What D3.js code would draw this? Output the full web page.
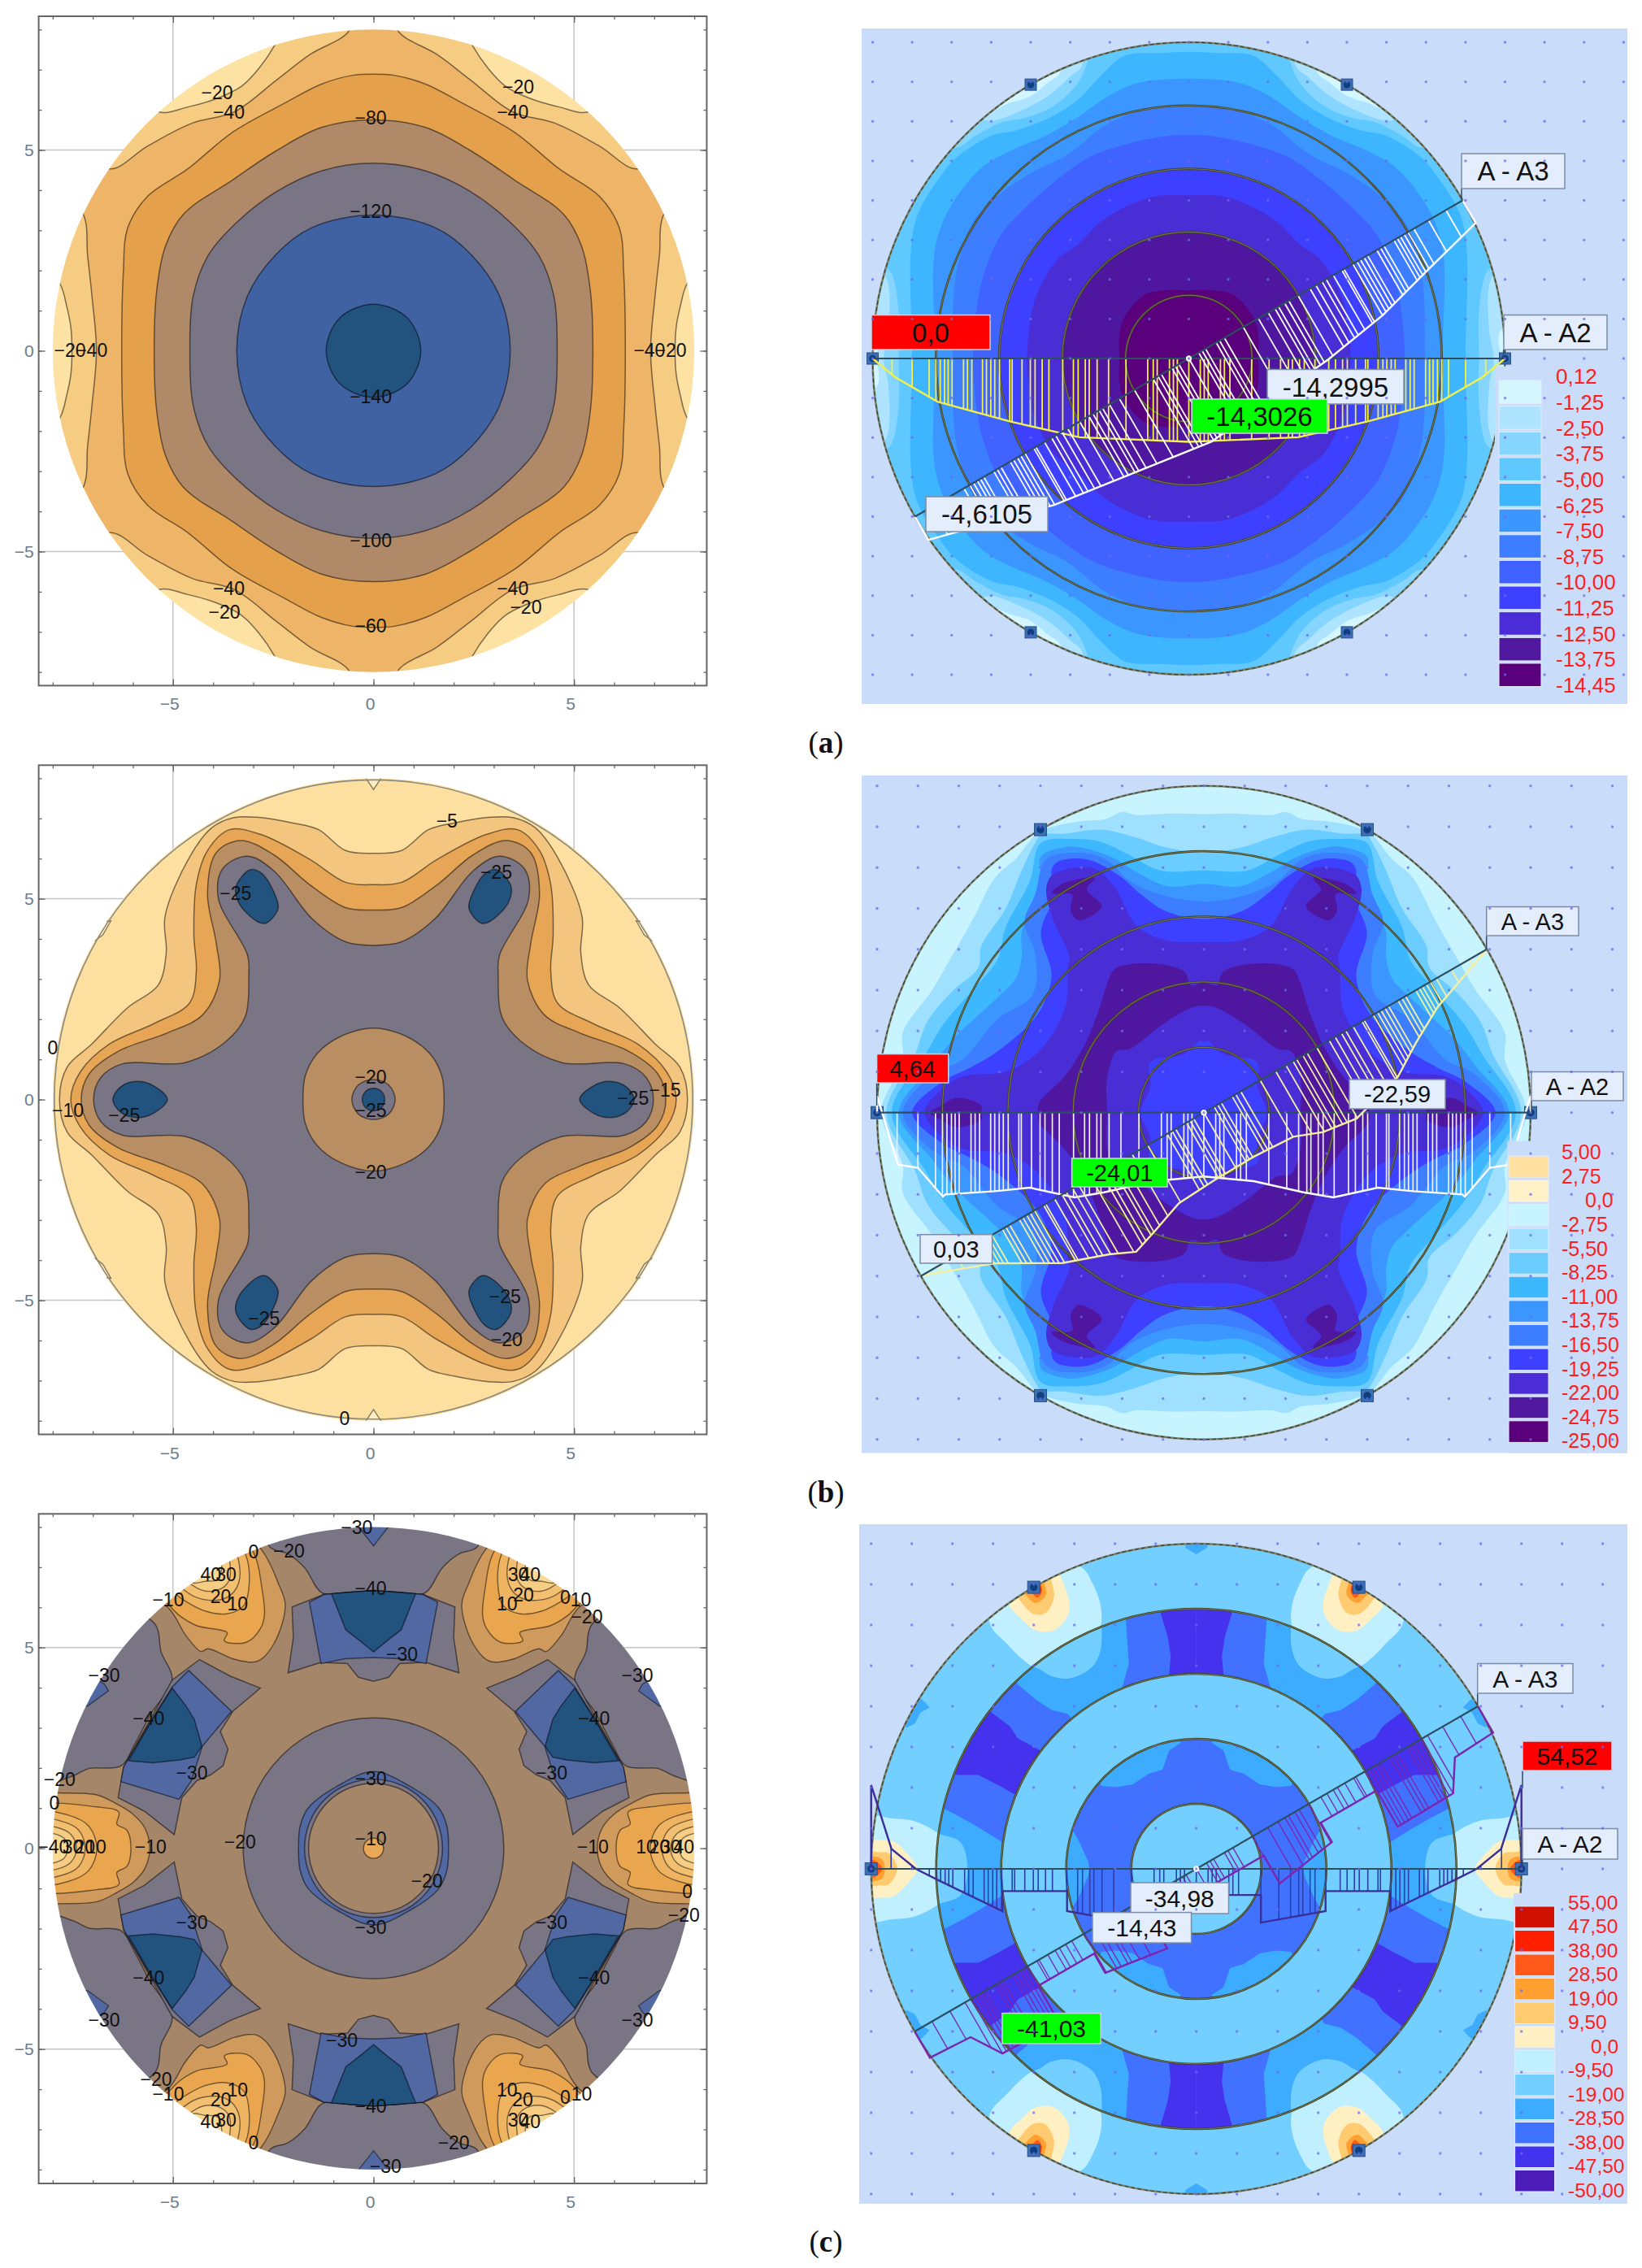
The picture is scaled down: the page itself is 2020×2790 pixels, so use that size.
<!DOCTYPE html>
<html><head><meta charset="utf-8">
<script src="https://cdn.jsdelivr.net/npm/d3@7"></script>
<style>html,body{margin:0;background:#fff}svg{display:block}</style></head>
<body><svg id="c" width="2020" height="2790"></svg>
<script>
// ---------- values (plot units; first quadrant, mirrored on both axes) ----------
const tickVals=d3.range(-8,9), majorVals=[-5,0,5];
// left (a)
const la20=[[7.52,0],[7.55,.6],[7.65,1.1],[7.82,1.67],[8.6,2.6],[7.5,5.6],[6,6.6],[5.36,5.95],[4.63,6.07],[3.86,6.3],[3.3,6.58],[2.86,7.03],[2.47,7.6],[2,8.6],[0,9.5]];
const la40=[[6.91,0],[7.02,1.35],[7.13,2.37],[7.24,3.4],[8,4.2],[7.4,5.2],[6.58,4.53],[5.63,5.1],[4.52,5.67],[3.47,5.95],[2.41,6.75],[1.58,7.38],[.63,7.94],[.4,8.6],[0,8.7]];
const la60=[[6.28,0],[6.24,1.92],[6.13,3.06],[5.63,3.85],[4.63,4.53],[3.52,5.44],[2.19,6.18],[1.3,6.64],[.52,6.86],[0,6.89]];
const la80=[[5.47,0],[5.41,1.47],[5.19,2.6],[4.74,3.4],[3.52,4.25],[2.41,4.99],[1.3,5.56],[0,5.75]];
const la100=[[4.58,0],[4.5,1.35],[4.12,2.38],[3.41,3.2],[2.41,3.97],[1.3,4.48],[0,4.67]];
const la120=[[3.41,0],[3.15,1.35],[2.45,2.38],[1.55,3.06],[0,3.38]];
const la140=[[1.18,0],[.84,.82],[0,1.16]];
const laChains=[la20,la40,la60,la80,la100,la120,la140];
const laColors=['#f6cb82','#eeb569','#e4a04c','#b08a68','#7a7585','#3f62a2','#23527f'];
const laLabels=[['−20',-3.9,6.43],['−40',-3.61,5.95],['−20',3.61,6.58],['−40',3.47,5.95],['−80',-.07,5.81],['−120',-.07,3.48],['−140',-.07,-1.13],['−100',-.07,-4.73],['−60',-.07,-6.85],['−40',-3.61,-5.92],['−20',-3.72,-6.51],['−40',3.47,-5.92],['−20',3.8,-6.38],['−20',-7.57,.02],['−40',-7.03,.02],['−40',6.88,.02],['−20',7.41,.02]];
// left (b)
const lb5=[[7.83,0],[7.64,.81],[7.03,1.38],[6.14,2.28],[5.37,2.85],[5.17,3.65],[5.2,4.56],[4.59,6.03],[4.03,6.77],[3.48,7.02],[2.92,7.03],[2.03,6.89],[1.37,6.72],[.7,6.2],[0,6.13]];
const lb10=[[7.55,0],[7.31,.69],[6.59,1.38],[5.48,1.89],[4.59,2.4],[4.42,3.19],[4.48,4.1],[4.42,5.35],[4.14,6.2],[3.59,6.72],[2.81,6.6],[1.59,5.98],[.7,5.41],[0,5.35]];
const lb15=[[7.29,0],[7.09,.64],[6.37,1.2],[5.14,1.66],[4.26,2.11],[3.84,2.97],[3.92,3.88],[4.14,5.13],[3.92,6.15],[3.31,6.45],[2.48,6.09],[1.59,5.35],[.7,4.78],[0,4.72]];
const lb20=[[6.98,0],[6.8,.55],[6.26,.89],[4.7,.92],[3.7,1.43],[3.2,2.06],[3.11,3.08],[3.14,3.59],[3.87,5.01],[3.76,5.75],[3.14,6.06],[2.48,5.69],[1.53,4.5],[.7,3.93],[0,3.84]];
const lbChains=[lb5,lb10,lb15,lb20];
const lbColors=['#f4c57e','#e7a655','#b98e62','#7a7585'];
const lbCenter=[[1.76,0],[1.7,.6],[1.4,1.15],[.8,1.58],[0,1.78]];
const lbCenterGray=[[.54,0],[.38,.36],[0,.5]];
const lbCenterBlue=[[.28,0],[.2,.2],[0,.28]];
const lbBlobDiag=[[3.08,5.72],[3.43,5.3],[3.36,4.9],[2.91,4.44],[2.69,4.39],[2.38,4.76],[2.52,5.24],[2.8,5.64]];
const lbBlobAxis=[[5.14,0],[5.5,.35],[5.9,.45],[6.3,.32],[6.5,0]];
const lbNotchTop=[[.22,8.05],[.08,7.84],[0,7.72]];
const lbNotchDiag=[[6.55,4.45],[6.75,4.1],[6.95,3.95],[7.2,3.95],[7.1,4.4]];
const lbLabels=[['−5',1.83,6.94],['−25',3.06,5.67],['−25',-3.44,5.13],['−20',-.07,.56],['−25',-.07,-.27],['−20',-.07,-1.81],['−25',-6.22,-.39],['−25',6.47,.03],['−15',7.27,.24],['−10',-7.62,-.27],['0',-8,1.3],['−25',-2.73,-5.44],['−25',3.28,-4.91],['−20',3.32,-5.98],['0',-.72,-7.94]];
// left (c)
const lcTan=[[8.5,0],[8.5,1.3],[7.95,1.63],[7.43,1.83],[7.09,1.99],[6.3,2.05],[5.95,2.6],[5.55,3.35],[5.02,4.19],[5.3,4.9],[5.42,5.54],[6.5,6.5],[3,8.6],[2.58,7.5],[2.13,7.33],[1.72,6.99],[1.27,6.35],[.6,6.38],[0,6.4]];
const lcWedge=[[2.82,3.99],[3.58,4.29],[4.34,4.7],[5.02,4.19],[5.6,3.15],[6.23,2.03],[6.37,1.26],[5.71,.92],[4.97,.34],[4.78,1.26],[4.4,1.69],[4.06,1.83],[3.75,2.06],[3.63,2.47],[3.82,2.91],[3.51,3.41]];
const lcBlue=[[4.61,4.43],[5.02,4.02],[5.6,3.1],[6.23,2.03],[6.3,1.66],[4.85,1.22],[4.54,1.69],[4.27,2.54],[3.54,3.41]];
const lcDark=[[5.02,3.99],[5.55,3.15],[6.11,2.18],[5.5,2.13],[4.82,2.2],[4.47,2.27],[4.28,2.54],[4.47,3.21],[4.68,3.55]];
const lcTopGray=[[0,6.42],[1.24,6.32],[2.03,6.01],[2,5.24],[2.13,4.37],[1.31,4.63],[.65,4.6],[.38,4.26],[0,4.16]];
const lcTopBlue=[[0,6.42],[1.24,6.32],[1.6,6.13],[1.31,4.6],[.7,4.72],[0,4.75]];
const lcTopDark=[[0,6.42],[1.05,6.34],[.69,5.44],[.34,5.17],[0,4.89]];
const lcPatch=[[6.71,4.09],[6.61,3.92],[7.12,3.55],[7.3,3.5],[7.7,3.7],[7.2,4.4]];
const lcTip=[[.4,8.2],[.37,8],[0,7.53]];
const lcDiag=[
 [[2.79,7.43],[2.37,6.59],[2.2,6.05],[2.48,5.1],[2.89,4.66],[3.44,4.7],[4.13,4.97],[4.3,4.9],[4.68,5.3],[5.13,6],[6.5,6.8],[4,8.5]],
 [[2.99,7.36],[2.79,6.52],[2.72,5.81],[2.82,5.47],[3.17,5.13],[3.72,5.17],[3.65,5.37],[4.4,5.54],[4.82,5.78],[5.13,6.08],[6.2,7],[4,8.5]],
 [[3.18,7.29],[3.1,6.59],[3.23,6.05],[3.65,5.84],[4.2,5.91],[4.68,6.15],[4.96,6.35],[5.8,7.2],[4,8.5]],
 [[3.37,7.19],[3.37,6.59],[3.65,6.25],[4.13,6.18],[4.61,6.35],[5.5,7.4],[4,8.5]],
 [[3.58,7.09],[3.61,6.65],[3.92,6.42],[4.4,6.48],[5.2,7.4],[4,8.5]],
 [[3.79,6.96],[3.89,6.69],[4.2,6.65],[4.54,6.62],[5.1,7.4],[4,8.5]]];
const lcAxis=[
 [[5.58,0],[5.7,.5],[6,.85],[6.4,1.1],[6.9,1.33],[7.86,1.38],[8.5,1.4],[8.5,0]],
 [[6.05,0],[6.15,.45],[6.4,.6],[6.35,.9],[6.9,1.03],[8.5,1],[8.5,0]],
 [[6.9,0],[7.1,.55],[7.6,.82],[8.5,.88],[8.5,0]],
 [[7.19,0],[7.35,.45],[7.8,.68],[8.5,.72],[8.5,0]],
 [[7.41,0],[7.55,.35],[7.9,.52],[8.5,.56],[8.5,0]],
 [[7.63,0],[7.72,.25],[8,.37],[8.5,.4],[8.5,0]]];
const lcLobeColors=['#cf9a5c','#e9a650','#efb462','#f3c072','#f7cd84','#fad995'];
const lcHex=[[1.87,0],[1.83,.55],[1.63,1],[.9,1.55],[0,1.91]];
const lcRingR=[3.25,1.72,1.62,.25];
const lcLabels=[['−30',-.42,7.99],['0',-2.99,7.39],['−20',-2.11,7.41],['40',-4.06,6.82],['30',-3.68,6.82],['20',-3.81,6.28],['10',-3.39,6.1],['−10',-5.12,6.19],['−40',-.07,6.48],['−30',.71,4.83],['30',3.61,6.82],['40',3.91,6.82],['20',3.74,6.31],['10',3.33,6.1],['0',4.78,6.25],['10',5.17,6.19],['−20',5.32,5.76],['−30',-6.72,4.31],['−30',6.58,4.31],['−40',-5.61,3.24],['−40',5.5,3.24],['−30',-4.53,1.88],['−30',4.44,1.88],['−20',-7.83,1.73],['0',-7.96,1.14],['−30',-.07,1.74],['−10',-.07,.25],['−20',-3.33,.17],['−10',-5.56,.03],['−10',5.47,.03],['−40',-7.98,.03],['30',-7.5,.03],['20',-7.2,.03],['10',-6.92,.03],['10',6.8,.03],['20',7.13,.03],['30',7.41,.03],['40',7.74,.03],['−20',1.33,-.8],['0',7.83,-1.08],['−20',7.74,-1.67],['−30',-4.53,-1.85],['−30',4.44,-1.85],['−30',-.07,-1.97],['−40',-5.61,-3.22],['−40',5.5,-3.22],['−30',-6.72,-4.28],['−30',6.58,-4.28],['−30',-.79,-4.77],['−20',-5.42,-5.74],['−10',-5.12,-6.11],['10',-3.39,-6.02],['20',-3.81,-6.25],['30',-3.68,-6.76],['40',-4.06,-6.8],['0',-2.99,-7.33],['−40',-.07,-6.42],['−20',2,-7.33],['10',3.33,-6.02],['20',3.72,-6.25],['30',3.61,-6.76],['40',3.91,-6.8],['0',4.78,-6.19],['10',5.19,-6.11],['−30',.3,-7.92]];
// right (a)
const ra=[
 [[7.89,0],[7.85,.6],[8.2,1.2],[7,4],[6,5.6],[4.64,6.42],[4.02,6.63],[3.54,7],[3.27,7.21],[3,8.5],[0,9]],
 [[7.72,0],[7.6,.7],[7.68,2.08],[8.4,2.6],[7,5],[5.6,6.2],[5.05,6.01],[4.29,6.25],[3.54,6.66],[2.99,7.14],[2.72,7.38],[2.4,8.5],[0,9]],
 [[7.34,0],[7.34,1.18],[7.51,2.14],[7.7,2.35],[8.3,3],[6.6,5.6],[5.9,5.33],[5.39,5.64],[4.71,5.98],[4.16,6.08],[3.47,6.36],[2.86,6.9],[2.58,7.45],[2.3,8.5],[0,9]],
 [[7,0],[7.03,2.76],[6.86,3.65],[6.28,4.61],[5.87,5.09],[4.98,5.64],[4.36,5.77],[3.47,6.12],[2.79,6.56],[2.24,7.14],[1.62,7.66],[.73,7.73],[0,7.76]],
 [[6.42,0],[6.45,2.55],[6.28,3.31],[5.94,3.99],[5.25,4.82],[4.57,5.23],[3.61,5.64],[2.79,6.12],[2.1,6.6],[1.28,6.97],[0,7.08]],
 [[5.97,0],[5.94,1.73],[5.8,2.55],[5.46,3.45],[4.91,4.06],[4.02,4.68],[3.06,5.16],[2.1,5.91],[1.14,6.29],[0,6.39]],
 [[5.46,0],[5.36,1.32],[5.18,2.14],[4.77,3.1],[4.23,3.72],[3.4,4.47],[2.51,5.09],[1.55,5.43],[.46,5.64],[0,5.65]],
 [[4.8,0],[4.43,1.85],[3.39,3.39],[1.85,4.43],[0,4.8]],
 [[4.09,0],[4.05,.64],[3.88,1.53],[3.34,2.49],[2.79,2.9],[2.24,3.45],[1.55,3.86],[.87,4.1],[0,4.13]],
 [[3.18,0],[2.94,1.22],[2.25,2.25],[1.22,2.94],[0,3.18]],
 [[1.76,0],[1.69,.91],[1.14,1.6],[.6,1.73],[0,1.73]]];
const raColors=['#aee4ff','#85d5ff','#5fc8ff','#3db6ff','#3b97ff','#3d7dff','#3f62ff','#3d40ff','#4a2dd6','#50179f','#5a007c'];
const legendAValues=['0,12','-1,25','-2,50','-3,75','-5,00','-6,25','-7,50','-8,75','-10,00','-11,25','-12,50','-13,75','-14,45'];
const legendAColors=['#d4f7ff','#aee4ff','#85d5ff','#5fc8ff','#3db6ff','#3b97ff','#3d7dff','#3f62ff','#3d40ff','#4a2dd6','#50179f','#5a007c'];
// right (b)
const rb=[
 [[7.9,0],[7.37,1.3],[7.37,1.96],[6.64,3.02],[6.18,3.81],[5.65,4.74],[5.12,5.74],[4.59,6.23],[4.06,6.86],[3.73,6.99],[3.07,7.13],[2.4,7.19],[2,7.36],[1.68,7.29],[.75,7.32],[0,7.31]],
 [[7.77,0],[7.07,1.43],[6.77,2.23],[6.18,2.95],[5.52,3.55],[5.45,4.08],[4.85,5],[4.46,5.93],[4.13,6.6],[3.99,6.79],[3.4,6.83],[2.54,6.93],[1.74,6.76],[.95,6.5],[0,6.36]],
 [[7.64,0],[6.81,1.43],[6.38,2.16],[5.58,3.09],[5.05,3.75],[4.85,4.54],[4.26,5.67],[3.99,6.6],[3.2,6.7],[2.54,6.63],[1.87,6.33],[1.08,5.93],[0,5.93]],
 [[7.47,0],[6.64,1.16],[6.11,1.83],[5.05,2.82],[4.6,3.3],[4.46,3.81],[4.46,4.4],[4,5.7],[3.99,6.27],[3.4,6.5],[3.07,6.5],[2.27,6.26],[1.61,5.87],[.88,5.54],[0,5.6]],
 [[7.37,0],[6.58,.97],[5.91,1.3],[5.05,2.29],[4.19,2.89],[4.13,3.88],[4.39,4.68],[4.13,5.34],[3.86,6.2],[3.07,6.36],[2.4,6.2],[1.81,5.67],[1.08,5.34],[0,5.17]],
 [[7.14,0],[6.38,.77],[5.72,1.1],[5.05,1.5],[4.06,2.42],[3.73,3.35],[3.99,4.41],[3.66,5.34],[3.73,5.93],[3.6,6.13],[2.87,6.2],[2.07,5.8],[1.54,5.34],[.95,4.94],[0,4.74]],
 [[6.84,0],[6.3,.67],[5.85,.9],[5,.97],[4.6,1.1],[3.98,1.56],[3.4,2.55],[3.33,3.56],[3.29,3.82],[3.7,4.75],[3.86,5.46],[3.73,5.8],[3.3,5.97],[2.66,5.97],[2.2,5.54],[1.61,4.54],[.88,4.21],[0,4.18]],
 [[4.06,0],[4.03,.24],[3.4,.9],[2.93,1.63],[2.6,2.42],[2.34,3.22],[2.17,3.52],[1.28,3.65],[.48,3.45],[.32,3.12],[0,3.19]],
 [[2.37,0],[2.37,.83],[2.14,1.5],[1.81,1.56],[1.01,2.16],[.32,2.56],[0,2.62]],
 [[1.54,0],[1.31,.64],[1.31,1.23],[.48,1.43],[.09,1.76],[0,1.73]]];
const rbColors=['#9fe0ff','#6accff','#3cb8ff','#3b97ff','#3d7dff','#3d40ff','#4a2dd6','#50179f','#4a2dd6','#3d40ff'];
const rbBlobDiag=[[3.73,5.37],[3.46,5.6],[2.67,5.74],[2.87,5.47],[2.5,5.07],[2.67,4.87],[3.07,4.71],[3.26,4.94],[3.23,5.34]];
const rbBlobAxis=[[5.45,0],[5.45,.17],[6.05,.36],[6.44,.17],[6.71,0]];
const legendBValues=['5,00','2,75','0,0','-2,75','-5,50','-8,25','-11,00','-13,75','-16,50','-19,25','-22,00','-24,75','-25,00'];
const legendBColors=['#ffe0a0','#fff2c8','#c8f4ff','#9fe0ff','#6accff','#3cb8ff','#3b97ff','#3d7dff','#3d40ff','#4a2dd6','#50179f','#5a007c'];
// right (c)
const rcBase=[[5.63,0],[5.8,.65],[6.36,.88],[7,1.2],[7.5,3],[6,5],[4,4.97],[3.56,4.74],[3.1,4.69],[2.56,4.97],[2.36,5.37],[2.33,6.04],[2.4,7],[0,7.5]];
const rcMid1=[[4.5,.5],[4.76,.65],[5.29,.98],[5.76,1.25],[6.26,1.51],[7.5,1.9],[7,4],[5,5.2],[4.39,4.54],[3.96,4.17],[3.56,3.91],[3.16,3.81],[2.9,3.5],[3.5,2.2]];
const rcMid2=[[1.83,4.44],[1.66,5.04],[1.73,6.1],[1.8,7],[0,7.2],[0,4],[1.7,4]];
const rcDeep1=[[5.89,2.31],[5.36,2.31],[4.85,2.05],[4.43,1.81],[3.9,1.6],[3.4,2.5],[3.83,2.91],[4.39,3.21],[4.59,3.51],[5.03,3.84],[5.7,4.4],[6.9,2.7]];
const rcDeep2=[[.87,6.27],[.7,5.7],[.63,5.24],[.67,4.77],[.65,4.3],[0,4.3],[0,7],[.9,7]];
const rcLobeDiag=[
 [[5.09,6.07],[4.63,5.51],[4.29,5.17],[3.99,4.97],[2.9,4.9],[2.36,5.94],[2.36,6.5],[2.56,7.04],[2.8,7.4],[3.5,7.6],[4.8,7]],
 [[4.59,6.47],[4.29,6.14],[3.96,5.87],[3.5,5.87],[3.16,6.24],[3.13,6.57],[3.26,7],[3.33,7.17],[3.6,7.5],[4.6,7]],
 [[4.29,6.54],[3.99,6.27],[3.7,6.3],[3.5,6.7],[3.56,7.07],[3.7,7.5],[4.5,7]],
 [[4.16,6.7],[3.96,6.54],[3.7,6.74],[3.73,6.97],[3.9,7.4],[4.4,7]],
 [[4.06,6.8],[3.9,6.67],[3.8,6.87],[3.95,7.2],[4.3,7]],
 [[4,6.87],[3.83,6.8],[3.85,6.98],[4.1,7.1]]];
const rcLobeAxis=[
 [[6,0],[6,.5],[6.36,.88],[6.96,1.18],[7.56,1.25],[7.86,1.31],[8.5,1.3],[8.5,0]],
 [[6.86,0],[7.06,.31],[7.46,.68],[7.82,.71],[8.5,.7],[8.5,0]],
 [[7.36,0],[7.56,.38],[7.79,.41],[8.5,.42],[8.5,0]],
 [[7.66,0],[7.75,.25],[8.5,.27],[8.5,0]],
 [[7.72,0],[7.78,.1],[7.95,.22],[8.5,.2],[8.5,0]],
 [[7.85,0],[7.95,.12],[8.5,.12],[8.5,0]]];
const rcLobeColors=['#c0f0ff','#fff0c4','#ffcb70','#ffa030','#ff5a1a','#ff2000'];
const rcPatch=[[6.72,4.14],[6.56,3.97],[6.79,3.84],[6.92,3.58],[7.12,3.48],[7.7,3.7],[7.2,4.5]];
const rcTip=[[.27,8.2],[.27,7.9],[0,7.74]];
const rcInner1=[[.37,3.11],[.67,2.91],[.83,2.44],[1.17,2.34],[1.56,2.08],[1.96,2.01],[2.33,2.04],[2.6,2.6],[1,3.5]];
const rcInner2=[[3.06,.98],[2.9,.71],[2.66,.18],[2.63,0],[3.5,0],[3.5,1]];
const ringRadii=[6.4,4.8,3.2,1.6];
const legendCValues=['55,00','47,50','38,00','28,50','19,00','9,50','0,0','-9,50','-19,00','-28,50','-38,00','-47,50','-50,00'];
const legendCColors=['#d01000','#ff2000','#ff5a1a','#ffa030','#ffcb70','#fff0c4','#c0f0ff','#72cfff','#3dacff','#3f72ff','#4433ee','#4c1cb8'];
// section results
const nodeS=[0,.29,.39,.49,.8,.9,1.04,1.59,2.03,2.32,2.52,2.62,2.8,2.92,3.19,3.54,3.71,3.89,4.01,4.22,4.47,4.53,4.79,4.91,5.01,5.12,5.22,5.49,5.6,5.7,5.99,6.09,6.18,6.29,6.4,6.57,7,7.51];
const sA2a=[-8,-7.43,-6.36,-4.53,-2.77,0,2.77,4.53,6.36,7.43,8], vA2a=[0,-3.2,-7.4,-10.8,-13.5,-14.3,-13.5,-10.8,-7.4,-3.2,0];
const sA3a=[-8,-4.8,-.56,3.05,4.8,6.27,8], vA3a=[-4.61,-10.2,-14.3,-12.1,-10.2,-7.5,-4.47];
const sA2b=[-8,-7.49,-7,-6.39,-6.33,-5.12,-4.26,-3.17,-2.44,-1.22,0,1.22,2.44,3.17,4.26,5.12,6.33,6.39,7,7.49,8], vA2b=[4.64,-14.4,-15.3,-23.3,-22.7,-21.8,-20.8,-23.5,-22.1,-19,-17.7,-19,-22.1,-23.5,-20.8,-21.8,-22.7,-23.3,-15.3,-14.4,4.64];
const sA3b=[-7.97,-6.28,-4.84,-3.74,-3.14,-2.53,-1.64,-.63,.52,1.6,2.29,3.17,4.55,5.34,6.24,8], vA3b=[.03,-7.2,-16.5,-20.9,-24.01,-21.8,-18.3,-17.7,-17.5,-18.2,-21.2,-22.59,-18.3,-12.7,-7.1,0];
const sA2c=[-8,-7.5,-6.9,-6.36,-4.77,-4.77,-3.18,-3.18,-1.59,-1.59,0,1.59,1.59,3.18,3.18,4.77,4.77,6.36,6.9,7.5,8], vA2c=[54.52,13,0,-7.2,-27.5,-14.5,-14.5,-27.5,-34.98,-17,-17,-17,-34.98,-27.5,-14.5,-14.5,-27.5,-7.2,0,13,54.52];
const sA3c=[-8,-6.88,-6.4,-4.81,-4.81,-3.22,-3.22,-1.6,-1.6,0,1.6,1.6,3.22,3.22,4.81,4.81,6.4,6.88,8], vA3c=[-19.8,-21.4,-41.03,-41.8,-14.5,-14.5,-29,-35.4,-14.43,-14.43,-14.43,-35.4,-29,-14.5,-14.5,-41.8,-41.03,-21.4,-19.8];
const supportAngles=[0,60,120,180,240,300];

// ---------- helpers ----------
const svg=d3.select('#c');
const defs=svg.append('defs');
defs.append('filter').attr('id','soft').append('feGaussianBlur').attr('stdDeviation',.7);
let clipN=0;
const smooth=(x,y)=>d3.line().x(d=>x(d[0])).y(d=>y(d[1])).curve(d3.curveCatmullRomClosed.alpha(.5));
const straight=(x,y)=>d3.line().x(d=>x(d[0])).y(d=>y(d[1])).curve(d3.curveLinearClosed);
function dedupe(p){return p.filter((d,i)=>{const n=p[(i+1)%p.length];return !(Math.abs(d[0]-n[0])<1e-6&&Math.abs(d[1]-n[1])<1e-6)})}
function loop4(ch){const r=ch.slice().reverse();return dedupe([...ch,...r.map(d=>[-d[0],d[1]]),...ch.map(d=>[-d[0],-d[1]]),...r.map(d=>[d[0],-d[1]])])}
function flips(p){return [[1,1],[-1,1],[-1,-1],[1,-1]].map(s=>p.map(d=>[d[0]*s[0],d[1]*s[1]]))}
function axisBlob(ch){const r=ch.slice().reverse();const up=dedupe([...ch,...r.map(d=>[d[0],-d[1]])]);return [up,up.map(d=>[-d[0],d[1]])]}
function topBlob(ch){const r=ch.slice().reverse();const up=dedupe([...ch,...r.map(d=>[-d[0],d[1]])]);return [up,up.map(d=>[d[0],-d[1]])]}
function clipped(parent,x,y,R){const id='clip'+(clipN++);
  defs.append('clipPath').attr('id',id).append('ellipse').attr('cx',x(0)).attr('cy',y(0)).attr('rx',x(R)-x(0)).attr('ry',y(0)-y(R));
  return parent.append('g').attr('clip-path',`url(#${id})`)}
function disc(g,x,y,r,fill,stroke,sw){return g.append('ellipse').attr('cx',x(0)).attr('cy',y(0)).attr('rx',x(r)-x(0)).attr('ry',y(0)-y(r)).attr('fill',fill).attr('stroke',stroke||'none').attr('stroke-width',sw||0)}
function poly(g,gen,p,fill,stroke,sw){g.append('path').attr('d',gen(p)).attr('fill',fill).attr('stroke',stroke||'none').attr('stroke-width',sw||0)}
const LINE='rgba(0,0,0,.5)';

function leftFrame(cy,top,bottom){
  const cx=459.5,u=49.33,v=49.4;
  const x=d3.scaleLinear().domain([-8.35,8.31]).range([cx-8.35*u,cx+8.31*u]);
  const y=d3.scaleLinear().domain([(cy-bottom)/v,(cy-top)/v]).range([bottom,top]);
  const g=svg.append('g');
  const grid=g.append('g').attr('stroke','#c4c4c4').attr('stroke-width',1.5);
  [-5,5].forEach(t=>{grid.append('line').attr('x1',x(t)).attr('x2',x(t)).attr('y1',top).attr('y2',bottom);
    grid.append('line').attr('y1',y(t)).attr('y2',y(t)).attr('x1',x.range()[0]).attr('x2',x.range()[1]);});
  const plot=clipped(g,x,y,8).attr('filter','url(#soft)');
  const over=g.append('g');
  const ticks=g.append('g');
  const mk=(ax,tr,vals,len)=>{const a=ticks.append('g').attr('transform',tr).call(ax.tickValues(vals).tickSize(-len).tickFormat(''));
    a.select('.domain').remove();a.selectAll('line').attr('stroke','#666').attr('stroke-width',1.3)};
  [[tickVals,4],[majorVals,8]].forEach(([vals,len])=>{
    mk(d3.axisBottom(x),`translate(0,${bottom})`,vals,len);
    mk(d3.axisTop(x),`translate(0,${top})`,vals,len);
    mk(d3.axisLeft(y),`translate(${x.range()[0]},0)`,vals,len);
    mk(d3.axisRight(y),`translate(${x.range()[1]},0)`,vals,len);
  });
  g.append('rect').attr('x',x.range()[0]).attr('y',top).attr('width',x.range()[1]-x.range()[0]).attr('height',bottom-top).attr('fill','none').attr('stroke','#666').attr('stroke-width',2);
  const fmt=t=>t<0?'−'+(-t):''+t;
  majorVals.forEach(t=>{
    ticks.append('text').attr('x',x(t)-4).attr('y',bottom+30).attr('text-anchor','middle').text(fmt(t));
    ticks.append('text').attr('x',x.range()[0]-6).attr('y',y(t)+7).attr('text-anchor','end').text(fmt(t));
  });
  ticks.selectAll('text').attr('font-family','"Liberation Sans"').attr('font-size',21).attr('fill','#6a7c8e');
  return {x,y,plot,over};
}
function contourLabels(over,x,y,list){over.selectAll('text.l').data(list).enter().append('text').attr('class','l')
  .attr('x',d=>x(d[1])).attr('y',d=>y(d[2])).attr('dy','.36em').attr('text-anchor','middle')
  .attr('font-family','"Liberation Sans"').attr('font-size',23).attr('fill','#111').text(d=>d[0]);}

function rightFrame(cfg){
  const {cx,cy,R,bg}=cfg;
  const x=d3.scaleLinear().domain([-8,8]).range([cx-R,cx+R]);
  const y=d3.scaleLinear().domain([-8,8]).range([cy+R,cy-R]);
  const g=svg.append('g');
  g.append('rect').attr('x',bg[0]).attr('y',bg[1]).attr('width',bg[2]-bg[0]).attr('height',bg[3]-bg[1]).attr('fill','#c9ddfb');
  const plot=clipped(g,x,y,8).attr('filter','url(#soft)');
  const top=g.append('g');
  return {x,y,g,plot,top};
}
function dots(g,x,y,bg){
  const xs=d3.range(-12,12),ys=d3.range(-12,12),pts=[];
  xs.forEach(a=>ys.forEach(b=>{const X=x(a),Y=y(b);if(X>bg[0]+3&&X<bg[2]-3&&Y>bg[1]+3&&Y<bg[3]-3)pts.push([a,b])}));
  g.append('g').selectAll('circle').data(pts).enter().append('circle').attr('cx',d=>x(d[0])).attr('cy',d=>y(d[1])).attr('r',1.7).attr('fill','#6a6af0').attr('opacity',.75);
}
function rings(g,x,y,radii,color){
  disc(g,x,y,8,'none','#7c8570',2.6);
  disc(g,x,y,8,'none','#3a3f35',1.2).attr('stroke-dasharray','5 3');
  radii.forEach(r=>{disc(g,x,y,r,'none',color,2.6);disc(g,x,y,r,'none','#8c8a4e',.8);});
}
function supports(g,x,y,size){
  supportAngles.forEach(a=>{const X=x(8*Math.cos(a*Math.PI/180)),Y=y(8*Math.sin(a*Math.PI/180));
    g.append('rect').attr('x',X-size/2).attr('y',Y-size/2).attr('width',size).attr('height',size).attr('fill','#3d6fb5').attr('stroke','#2b4f88');
    g.append('circle').attr('cx',X).attr('cy',Y).attr('r',size/3.2).attr('fill','#0f3f80');});
}
function valueAt(ss,vs,s){let i=d3.bisectRight(ss,s);i=Math.max(1,Math.min(ss.length-1,i));
  const d=ss[i]-ss[i-1];return d===0?vs[i]:d3.interpolateNumber(vs[i-1],vs[i])((s-ss[i-1])/d)}
function section(g,x,y,ss,vs,angle,k,curveCol,hatchCol,sw){
  const a=angle*Math.PI/180,c=Math.cos(a),sn=Math.sin(a);
  const base=s=>[s*c,s*sn]; const tip=(s,v)=>{const o=-v*k;return [s*c+o*sn,s*sn-o*c]};
  const all=[...nodeS,...nodeS.filter(d=>d>0).map(d=>-d)];
  g.append('g').selectAll('line').data(all).enter().append('line')
    .attr('x1',s=>x(base(s)[0])).attr('y1',s=>y(base(s)[1]))
    .attr('x2',s=>x(tip(s,valueAt(ss,vs,s))[0])).attr('y2',s=>y(tip(s,valueAt(ss,vs,s))[1]))
    .attr('stroke',hatchCol).attr('stroke-width',sw);
  const line=d3.line().x(d=>x(d[0])).y(d=>y(d[1]));
  const pts=ss.map((s,i)=>tip(s,vs[i]));
  g.append('path').attr('d',line([base(ss[0]),...pts,base(ss[ss.length-1])])).attr('fill','none').attr('stroke',curveCol).attr('stroke-width',2.4);
  g.append('path').attr('d',line([base(-8),base(8)])).attr('fill','none').attr('stroke','#2c4e60').attr('stroke-width',2.2);
  g.append('circle').attr('cx',x(0)).attr('cy',y(0)).attr('r',3.5).attr('fill','#fff');
}
function boxes(g,list,fs){list.forEach(b=>{
  const f=b[5]||'#e4edfb';
  g.append('rect').attr('x',b[1]).attr('y',b[3]).attr('width',b[2]-b[1]).attr('height',b[4]-b[3]).attr('fill',f)
    .attr('stroke',b[5]?'#c8d4e8':'#7c8ca4').attr('stroke-width',1.5);
  g.append('text').attr('x',(b[1]+b[2])/2).attr('y',(b[3]+b[4])/2).attr('dy','.36em').attr('text-anchor','middle')
   .attr('font-family','"Liberation Sans"').attr('font-size',fs).attr('fill','#111').text(b[0]);
});}
function legend(g,cfg){
  const {values,colors,textX,rowY,step,swX,swW,fs,zeroX}=cfg;
  g.append('rect').attr('x',cfg.panel[0]).attr('y',cfg.panel[1]).attr('width',cfg.panel[2]-cfg.panel[0]).attr('height',cfg.panel[3]-cfg.panel[1]).attr('fill','#c9ddfb');
  colors.forEach((c,i)=>g.append('rect').attr('x',swX).attr('y',rowY+step*i+5).attr('width',swW).attr('height',step-3).attr('fill',c).attr('stroke','#e4edfb').attr('stroke-width',1));
  values.forEach((t,i)=>g.append('text').attr('x',t==='0,0'?zeroX:textX).attr('y',rowY+step*i).attr('dy','.36em')
    .attr('font-family','"Liberation Sans"').attr('font-size',fs).attr('fill','#ff1e1e').text(t));
}
function lead(g,x1,y1,x2,y2){g.append('line').attr('x1',x1).attr('y1',y1).attr('x2',x2).attr('y2',y2).attr('stroke','#2c4e60').attr('stroke-width',1.5)}
function caption(t,y){const e=svg.append('text').attr('x',1016).attr('y',y).attr('text-anchor','middle').attr('font-family','"Liberation Serif"').attr('font-size',37).attr('fill','#111');
  e.append('tspan').text('(');e.append('tspan').attr('font-weight','bold').text(t);e.append('tspan').text(')');}

// ---------- left (a) ----------
{const {x,y,plot,over}=leftFrame(431.5,20,843.4);
 const s=smooth(x,y);
 disc(plot,x,y,8.2,'#fde2a3');
 laChains.forEach((c,i)=>poly(plot,s,loop4(c),laColors[i],LINE,1.5));
 contourLabels(over,x,y,laLabels);}
// ---------- left (b) ----------
{const {x,y,plot,over}=leftFrame(1352.6,941.3,1764.5);
 const s=smooth(x,y);
 disc(plot,x,y,8.2,'#fde0a0');
 lbChains.forEach((c,i)=>poly(plot,s,loop4(c),lbColors[i],LINE,1.5));
 flips(lbBlobDiag).forEach(p=>poly(plot,s,p,'#23527f',LINE,1.5));
 axisBlob(lbBlobAxis).forEach(p=>poly(plot,s,p,'#23527f',LINE,1.5));
 poly(plot,s,loop4(lbCenter),'#b98e62',LINE,1.5);
 poly(plot,s,loop4(lbCenterGray),'#7a7585',LINE,1.5);
 poly(plot,s,loop4(lbCenterBlue),'#23527f',LINE,1.5);
 topBlob(lbNotchTop).forEach(p=>poly(plot,straight(x,y),p,'#ffeec4',LINE,1.3));
 flips(lbNotchDiag).forEach(p=>poly(plot,straight(x,y),p,'#ffeec4',LINE,1.3));
 disc(plot,x,y,7.96,'none','#8a8a80',1.6);
 contourLabels(over,x,y,lbLabels);}
// ---------- left (c) ----------
{const {x,y,plot,over}=leftFrame(2273.7,1862.3,2686);
 const s=smooth(x,y),l=straight(x,y);
 disc(plot,x,y,8.2,'#7a7585');
 flips(lcPatch).forEach(p=>poly(plot,l,p,'#5168a3',LINE,1.3));
 topBlob(lcTip).forEach(p=>poly(plot,l,p,'#5168a3',LINE,1.3));
 poly(plot,s,loop4(lcTan),'#a58668',LINE,1.5);
 flips(lcWedge).forEach(p=>poly(plot,l,p,'#7a7585',LINE,1.5));
 topBlob(lcTopGray).forEach(p=>poly(plot,l,p,'#7a7585',LINE,1.5));
 flips(lcBlue).forEach(p=>poly(plot,l,p,'#5168a3',LINE,1.5));
 topBlob(lcTopBlue).forEach(p=>poly(plot,l,p,'#5168a3',LINE,1.5));
 flips(lcDark).forEach(p=>poly(plot,l,p,'#23527f',LINE,1.5));
 topBlob(lcTopDark).forEach(p=>poly(plot,l,p,'#23527f',LINE,1.5));
 lcDiag.forEach((c,i)=>flips(c).forEach(p=>poly(plot,s,p,lcLobeColors[i],LINE,1.4)));
 lcAxis.forEach((c,i)=>axisBlob(c).forEach(p=>poly(plot,s,p,lcLobeColors[i],LINE,1.4)));
 disc(plot,x,y,lcRingR[0],'#7a7585',LINE,1.5);
 poly(plot,s,loop4(lcHex),'#5168a3',LINE,1.5);
 disc(plot,x,y,lcRingR[1],'#7a7585',LINE,1.5);
 disc(plot,x,y,lcRingR[2],'#a58668',LINE,1.5);
 disc(plot,x,y,lcRingR[3],'#e9a858',LINE,1.5);
 contourLabels(over,x,y,lcLabels);}

// ---------- right (a) ----------
{const bg=[1060,35,2002,866];const {x,y,g,plot,top}=rightFrame({cx:1462.5,cy:441,R:389,bg});
 const s=smooth(x,y);
 disc(plot,x,y,8.2,'#d4f7ff');
 ra.forEach((c,i)=>poly(plot,s,loop4(c),raColors[i]));
 dots(g,x,y,bg);
 rings(top,x,y,ringRadii,'#3d4028');
 supports(top,x,y,14);
 section(top,x,y,sA2a,vA2a,0,.1475,'#f2f04a','#f2f04a',1.8);
 section(top,x,y,sA3a,vA3a,30,.1475,'#ffffff','#ffffff',1.8);
 legend(top,{panel:[1839,450.6,2002,866],values:legendAValues,colors:legendAColors,textX:1914,zeroX:1914,rowY:463,step:31.63,swX:1844,swW:52,fs:26});
 lead(top,1798,232,1798,246);lead(top,1849.6,430,1849.6,441);
 boxes(top,[['A - A3',1798,1925,189,232],['A - A2',1850,1977,387.5,430],['0,0',1072,1218,387.5,430,'#ff0000'],['-14,2995',1559,1727,454.5,497],['-14,3026',1466,1633,491,533,'#00ff00'],['-4,6105',1139,1289,611,654]],33);}
// ---------- right (b) ----------
{const bg=[1060,954,2002,1787.5];const {x,y,g,plot,top}=rightFrame({cx:1481,cy:1368.7,R:402,bg});
 const s=smooth(x,y);
 disc(plot,x,y,8.2,'#c8f4ff');
 rb.forEach((c,i)=>{ if(i<8) poly(plot,s,loop4(c),rbColors[i]); });
 flips(rbBlobDiag).forEach(p=>poly(plot,s,p,'#50179f'));
 axisBlob(rbBlobAxis).forEach(p=>poly(plot,s,p,'#50179f'));
 poly(plot,s,loop4(rb[8]),rbColors[8]);
 poly(plot,s,loop4(rb[9]),rbColors[9]);
 dots(g,x,y,bg);
 rings(top,x,y,ringRadii,'#3d4028');
 supports(top,x,y,15);
 section(top,x,y,sA2b,vA2b,0,.0883,'#ffffff','#eef0ff',1.7);
 section(top,x,y,sA3b,vA3b,30,.0883,'#f4f0a0','#f4f0a0',1.8);
 legend(top,{panel:[1854.5,1403.5,2002,1787.5],values:legendBValues,colors:legendBColors,textX:1921,zeroX:1950,rowY:1417.2,step:29.6,swX:1856,swW:49,fs:25});
 lead(top,1828.7,1151,1828.7,1166);lead(top,1884,1354,1884,1369);lead(top,1078.6,1332,1078.6,1360);
 boxes(top,[['A - A3',1828.7,1942,1115.5,1151],['A - A2',1884,1997,1318.5,1354],['4,64',1078.6,1166.8,1296.6,1332,'#ff0000'],['-22,59',1660,1778,1328,1364],['-24,01',1318.6,1436,1425,1460,'#00ff00'],['0,03',1132,1220.6,1518.7,1554]],29);}
// ---------- right (c) ----------
{const bg=[1057,1875,2002,2711];const {x,y,g,plot,top}=rightFrame({cx:1471.7,cy:2299,R:400,bg});
 const s=smooth(x,y),l=straight(x,y);
 disc(plot,x,y,8.2,'#72cfff');
 flips(rcPatch).forEach(p=>poly(plot,l,p,'#3dacff'));
 topBlob(rcTip).forEach(p=>poly(plot,l,p,'#3dacff'));
 const [c1,...cr]=rcLobeDiag, [a1,...ar]=rcLobeAxis;
 flips(c1).forEach(p=>poly(plot,s,p,rcLobeColors[0]));
 axisBlob(a1).forEach(p=>poly(plot,s,p,rcLobeColors[0]));
 disc(plot,x,y,6.4,'#72cfff');
 const annulus=clipped(plot,x,y,6.4);
 poly(annulus,s,loop4(rcBase),'#3dacff');
 flips(rcMid1).forEach(p=>poly(annulus,l,p,'#3f72ff'));
 flips(rcMid2).forEach(p=>poly(annulus,l,p,'#3f72ff'));
 flips(rcDeep1).forEach(p=>poly(annulus,l,p,'#4433ee'));
 flips(rcDeep2).forEach(p=>poly(annulus,l,p,'#4433ee'));
 disc(plot,x,y,4.8,'#72cfff');
 disc(plot,x,y,3.2,'#3f72ff');
 const inner=clipped(plot,x,y,3.2);
 flips(rcInner1).forEach(p=>poly(inner,l,p,'#3dacff'));
 flips(rcInner2).forEach(p=>poly(inner,l,p,'#3dacff'));
 disc(plot,x,y,1.6,'#72cfff');
 cr.forEach((c,i)=>flips(c).forEach(p=>poly(plot,s,p,rcLobeColors[i+1])));
 ar.forEach((c,i)=>axisBlob(c).forEach(p=>poly(plot,s,p,rcLobeColors[i+1])));
 dots(g,x,y,bg);
 rings(top,x,y,ringRadii,'#3d4028');
 supports(top,x,y,15);
 section(top,x,y,sA2c,vA2c,0,.0378,'#3a2f9a','#2c3fa8',1.6);
 section(top,x,y,sA3c,vA3c,30,.0378,'#7a25b0','#7a25b0',1.4);
 legend(top,{panel:[1862,2329,2002,2711],values:legendCValues,colors:legendCColors,textX:1929,zeroX:1957,rowY:2340,step:29.5,swX:1863.6,swW:49,fs:24.5});
 lead(top,1817.7,2083,1817.7,2098);lead(top,1873,2178,1873,2200);lead(top,1873,2287,1873,2299);
 boxes(top,[['A - A3',1817.7,1935,2046.5,2083],['54,52',1873,1983,2142,2178,'#ff0000'],['A - A2',1873,1990,2249.5,2287],['-34,98',1391,1511.5,2316,2354],['-14,43',1344,1465.6,2352.6,2390],['-41,03',1233,1354,2476.6,2514,'#00ff00']],30);}

caption('a',926);caption('b',1848);caption('c',2770);
</script></body></html>
